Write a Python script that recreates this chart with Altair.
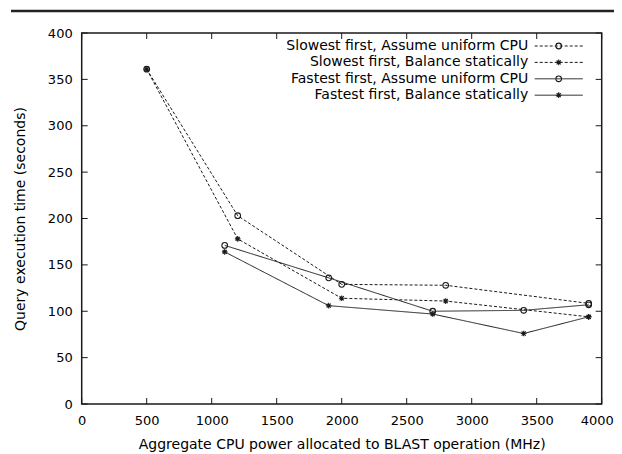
import altair as alt
import pandas as pd

# ---- data ----
x_slowest = [500, 1200, 2000, 2800, 3900]
slowest_uniform = [361, 203, 129, 128, 108.5]
slowest_static = [361, 178, 114, 111, 94]

x_fastest = [1100, 1900, 2700, 3400, 3900]
fastest_uniform = [171, 136, 100, 101, 107]
fastest_static = [164, 106, 97, 76, 94]

series_names = [
    "Slowest first, Assume uniform CPU",
    "Slowest first, Balance statically",
    "Fastest first, Assume uniform CPU",
    "Fastest first, Balance statically",
]
series_dash = ["dashed", "dashed", "solid", "solid"]
series_marker = ["circle", "star", "circle", "star"]

x_ticks = [0, 500, 1000, 1500, 2000, 2500, 3000, 3500, 4000]
y_ticks = [0, 50, 100, 150, 200, 250, 300, 350, 400]

x_title = "Aggregate CPU power allocated to BLAST operation (MHz)"
y_title = "Query execution time (seconds)"

# ---- build table ----
series_x = [x_slowest, x_slowest, x_fastest, x_fastest]
series_y = [slowest_uniform, slowest_static, fastest_uniform, fastest_static]
rows = []
for name, xs_, ys_, dash, marker in zip(series_names, series_x, series_y, series_dash, series_marker):
    for i, (xv, yv) in enumerate(zip(xs_, ys_)):
        rows.append(dict(series=name, x=xv, y=yv, order=i, dash=dash, marker=marker))
df = pd.DataFrame(rows)

W, H = 520, 371
TICK = 6
INK = "#1a1a1a"
FONT = "DejaVu Sans"
ASTERISK = "M-1,0L1,0M0,-1L0,1M-0.72,-0.72L0.72,0.72M-0.72,0.72L0.72,-0.72"

xscale = alt.Scale(domain=[0, 4000], nice=False, zero=False)
yscale = alt.Scale(domain=[0, 400], nice=False, zero=False)
dash_scale = alt.Scale(domain=["dashed", "solid"], range=[[3, 2], [1, 0]])
shape_scale = alt.Scale(domain=["circle", "star"], range=["circle", ASTERISK])

base = alt.Chart(df)

lines = base.mark_line(color=INK, strokeWidth=1).encode(
    x=alt.X("x:Q", scale=xscale,
            axis=alt.Axis(values=x_ticks, title=x_title, labelFlush=False, format="d",
                          labelPadding=10, titlePadding=10,
                          labelOffset={"condition": {"test": "datum.value == 4000", "value": -5},
                                       "value": 0})),
    y=alt.Y("y:Q", scale=yscale,
            axis=alt.Axis(values=y_ticks, title=y_title, labelPadding=9.5, format="d",
                          titlePadding=20)),
    detail="series:N",
    strokeDash=alt.StrokeDash("dash:N", scale=dash_scale, legend=None),
    order="order:Q",
)

points = base.mark_point(filled=False, color=INK, size=32, strokeWidth=1.1, opacity=1).encode(
    x=alt.X("x:Q", scale=xscale),
    y=alt.Y("y:Q", scale=yscale),
    shape=alt.Shape("marker:N", scale=shape_scale, legend=None),
)

xt = pd.DataFrame({"t": x_ticks})
yt = pd.DataFrame({"t": y_ticks})
tick_bottom = alt.Chart(xt).mark_rule(color=INK, strokeWidth=1).encode(
    x=alt.X("t:Q", scale=xscale), y=alt.value(H - TICK), y2=alt.value(H))
tick_top = alt.Chart(xt).mark_rule(color=INK, strokeWidth=1).encode(
    x=alt.X("t:Q", scale=xscale), y=alt.value(0), y2=alt.value(TICK))
tick_left = alt.Chart(yt).mark_rule(color=INK, strokeWidth=1).encode(
    y=alt.Y("t:Q", scale=yscale), x=alt.value(0), x2=alt.value(TICK))
tick_right = alt.Chart(yt).mark_rule(color=INK, strokeWidth=1).encode(
    y=alt.Y("t:Q", scale=yscale), x=alt.value(W - TICK), x2=alt.value(W))

one = pd.DataFrame({"k": [0]})
top_bar = alt.Chart(one).mark_rule(color="#222", strokeWidth=2.7).encode(
    x=alt.value(-70.7), x2=alt.value(532.3), y=alt.value(-22))

# ---- manual legend (gnuplot style: text left of sample) ----
legend_layers = []
for i, (name, dash, marker) in enumerate(zip(series_names, series_dash, series_marker)):
    yrow = 13 + 16.4 * i
    ldf = pd.DataFrame({"label": [name], "dash": [dash], "marker": [marker]})
    lc = alt.Chart(ldf)
    legend_layers.append(
        lc.mark_text(align="right", baseline="middle", font=FONT, fontSize=14, color="#000").encode(
            x=alt.value(446.5), y=alt.value(yrow), text="label:N"))
    legend_layers.append(
        lc.mark_rule(color=INK, strokeWidth=1).encode(
            x=alt.value(453), x2=alt.value(501), y=alt.value(yrow),
            strokeDash=alt.StrokeDash("dash:N", scale=dash_scale, legend=None)))
    legend_layers.append(
        lc.mark_point(filled=False, color=INK, size=32, strokeWidth=1.1, opacity=1).encode(
            x=alt.value(477), y=alt.value(yrow),
            shape=alt.Shape("marker:N", scale=shape_scale, legend=None)))

chart = alt.layer(
    lines, points, tick_bottom, tick_top, tick_left, tick_right, top_bar, *legend_layers
).properties(
    width=W, height=H,
    autosize=alt.AutoSizeParams(type="none"),
    padding={"left": 73.7, "top": 25, "right": 12.3, "bottom": 48},
    background="white",
).configure_view(
    stroke=INK, strokeWidth=1.5,
).configure_axis(
    grid=False, domain=False, ticks=False,
    labelFont=FONT, labelFontSize=13, labelColor="#000",
    titleFont=FONT, titleFontSize=14, titleFontWeight="normal", titleColor="#000",
)

chart.save("out.html", embed_options={"renderer": "svg", "actions": False})
